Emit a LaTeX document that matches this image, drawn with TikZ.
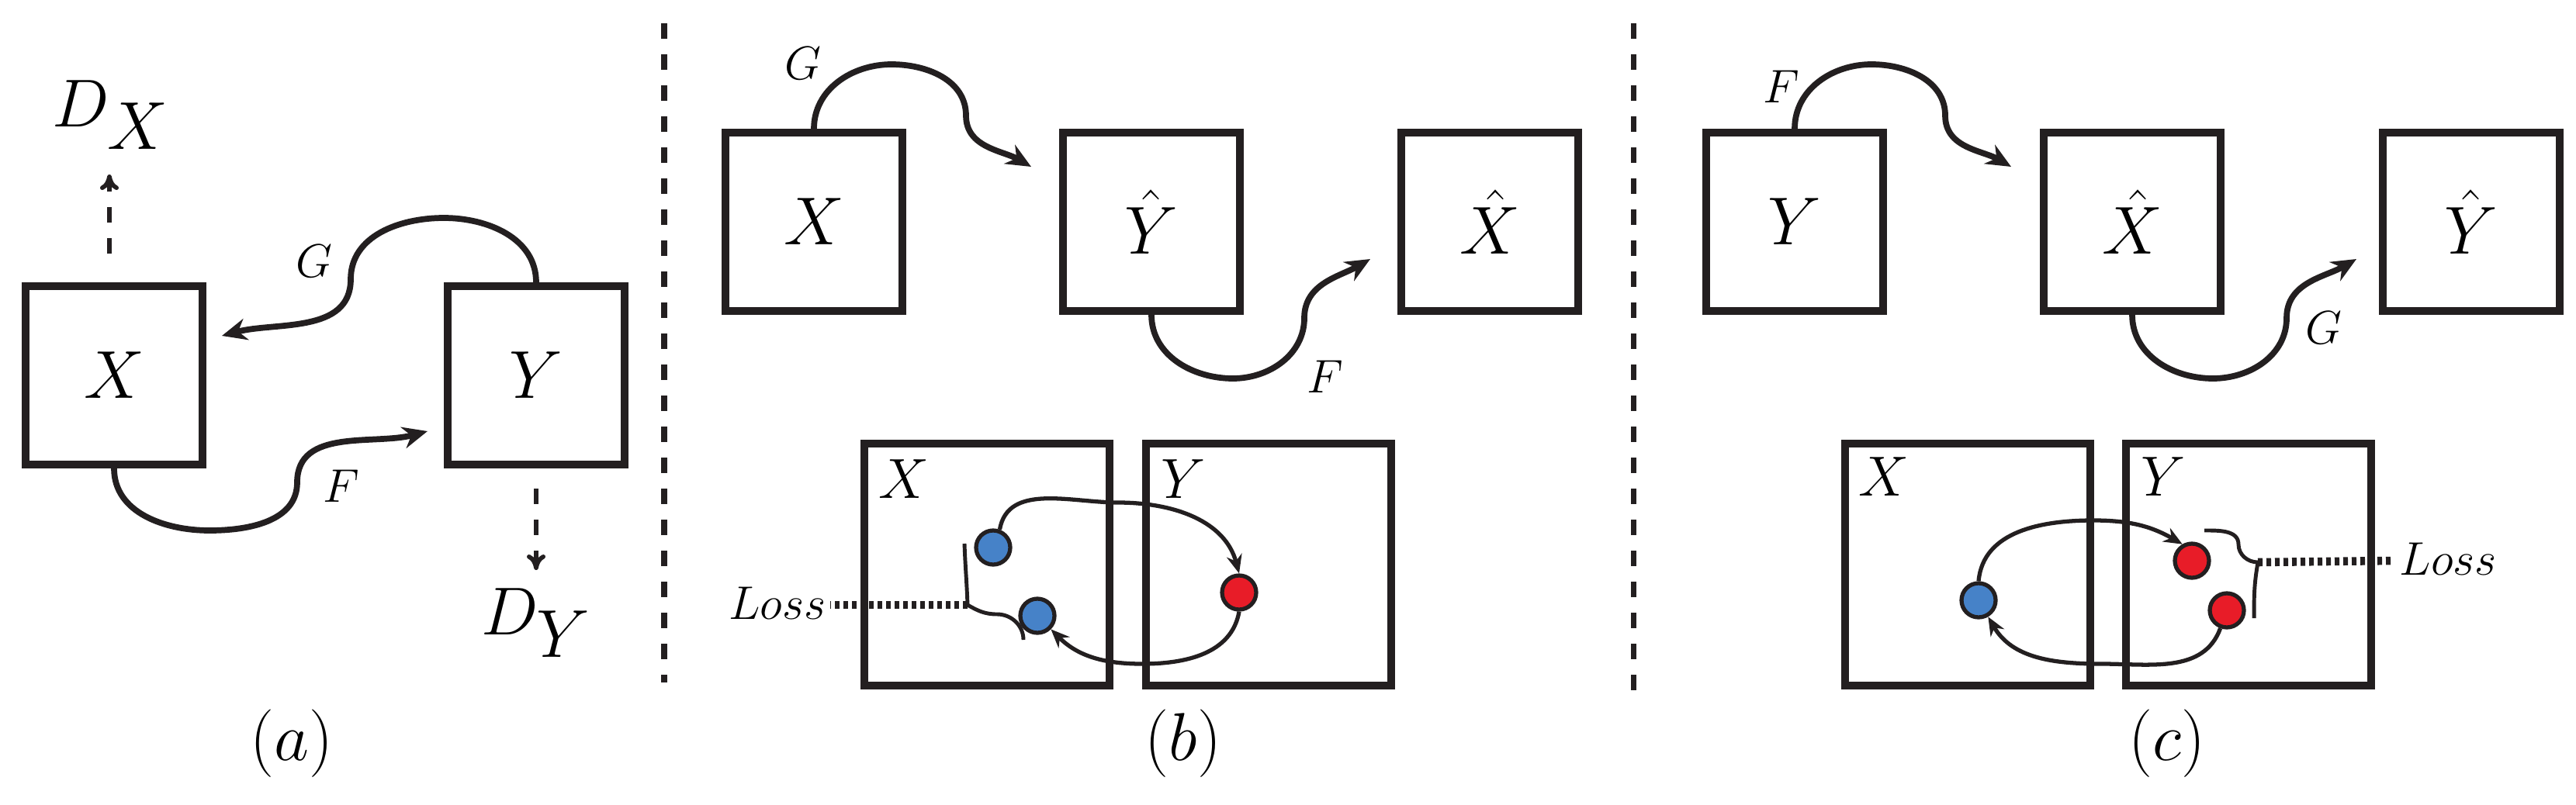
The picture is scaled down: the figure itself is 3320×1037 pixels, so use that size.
\documentclass[tikz,border=0pt]{standalone}
\usetikzlibrary{arrows.meta}
\definecolor{dotblue}{RGB}{70,130,200}
\definecolor{dotred}{RGB}{232,28,40}
\definecolor{ink}{RGB}{35,31,32}
\begin{document}
\begin{tikzpicture}[x=0.1mm,y=0.1mm,
  big/.style={draw=ink,line width=2.8pt,minimum width=22.8mm,minimum height=23mm,inner sep=0pt,font=\fontsize{41}{41}\selectfont},
  sq/.style={draw=ink,line width=2.8pt,minimum width=31.6mm,minimum height=31.2mm,inner sep=0pt},
  curve/.style={ink,line width=2.2pt,-{Stealth[length=3.2mm,width=2.8mm]}},
  thin/.style={ink,line width=1.5pt,-{Stealth[length=2.4mm,width=2mm]}},
  dsh/.style={ink,line width=1.6pt,dash pattern=on 2mm off 2mm,-{To[length=2mm,width=2.4mm]}},
  divider/.style={ink,line width=2pt,dash pattern=on 2mm off 2mm},
  lab/.style={font=\fontsize{17}{17}\selectfont,inner sep=0pt},
  sub/.style={font=\fontsize{21}{21}\selectfont,inner sep=0pt},
  captxt/.style={font=\fontsize{30}{30}\selectfont,inner sep=0pt},
  bdot/.style={circle,draw=ink,line width=1.5pt,fill=dotblue,minimum size=4.4mm,inner sep=0pt},
  rdot/.style={circle,draw=ink,line width=1.5pt,fill=dotred,minimum size=4.4mm,inner sep=0pt},
  loss/.style={ink,line width=3pt,dash pattern=on 0.6mm off 0.5mm},
  brace/.style={ink,line width=1.4pt}]
\useasboundingbox (0,0) rectangle (3320,1037);
% ---------- (a)
\node[big] (Xa) at (147,553) {$X$};
\node[big] (Ya) at (691,553) {$Y$};
\node[font=\fontsize{33}{33}\selectfont,inner sep=0pt] (DX) at (143,889) {$D_X$};
\node[font=\fontsize{33}{33}\selectfont,inner sep=0pt] (DY) at (691,234) {$D_Y$};
\coordinate (dxs) at (141,710); \coordinate (dxe) at (141,812);
\coordinate (dys) at (691,407); \coordinate (dye) at (691,302);
\draw[dsh] (dxs) -- (dxe);
\draw[dsh] (dys) -- (dye);
\coordinate (ga1) at (572,756); \coordinate (ga2) at (452,677); \coordinate (ga3) at (286,604);
\draw[curve] (Ya.north) to[out=90,in=0] (ga1) to[out=180,in=90] (ga2) to[out=-90,in=15] (ga3);
\node[lab] (Gla) at (405,700) {$G$};
\coordinate (fa1) at (270,353); \coordinate (fa2) at (383,415); \coordinate (fa3) at (551,481);
\draw[curve] (Xa.south) to[out=-90,in=180] (fa1) to[out=0,in=-90] (fa2) to[out=90,in=195] (fa3);
\node[lab] (Fla) at (440,410) {$F$};
\node[captxt] (ca) at (376,78) {$(a)$};
\coordinate (d1a) at (856,1007); \coordinate (d1b) at (856,157);
\draw[divider] (d1a) -- (d1b);
% ---------- (b) top
\node[big] (Xb) at (1049,751) {$X$};
\node[big] (Yhb) at (1484,751) {$\hat{Y}$};
\node[big] (Xhb) at (1920,751) {$\hat{X}$};
\coordinate (gb1) at (1149,954); \coordinate (gb2) at (1245,888); \coordinate (gb3) at (1329,822);
\draw[curve] (Xb.north) to[out=90,in=180] (gb1) to[out=0,in=90] (gb2) to[out=-90,in=150] (gb3);
\node[lab] (Glb) at (1035,955) {$G$};
\coordinate (fb1) at (1589,549); \coordinate (fb2) at (1681,627); \coordinate (fb3) at (1766,703);
\draw[curve] (Yhb.south) to[out=-90,in=180] (fb1) to[out=0,in=-90] (fb2) to[out=90,in=210] (fb3);
\node[lab] (Flb) at (1708,551) {$F$};
% ---------- (b) bottom
\node[sq] (Xbb) at (1272,309) {};
\node[sq] (Ybb) at (1635,309) {};
\node[sub] (xlb) at (1165,419) {$X$};
\node[sub] (ylb) at (1525,419) {$Y$};
\node[bdot] (b1) at (1280,331) {};
\node[bdot] (b2) at (1337,243) {};
\node[rdot] (rb) at (1597,273) {};
\coordinate (ab1) at (1441,389); \coordinate (ab2) at (1472,181);
\draw[thin] (b1.70) to[out=80,in=180] (ab1) to[out=0,in=105] (rb.north);
\draw[thin] (rb.south) to[out=-100,in=0] (ab2) to[out=180,in=-45] (b2.-45);
\coordinate (brb1) at (1243,336); \coordinate (brb2) at (1247,257); \coordinate (brb3) at (1319,212);
\draw[brace] (brb1) to[out=-88,in=92] (brb2) to[out=-30,in=180] (1285,245) to[out=0,in=90] (brb3);
\coordinate (lbe) at (1070,257);
\draw[loss] (brb2) -- (lbe);
\node[lab,anchor=east] (Lb) at (1065,259) {$Loss$};
\node[captxt] (cb) at (1525,78) {$(b)$};
\coordinate (d2a) at (2105,1007); \coordinate (d2b) at (2105,147);
\draw[divider] (d2a) -- (d2b);
% ---------- (c) top
\node[big] (Yc) at (2313,751) {$Y$};
\node[big] (Xhc) at (2748,751) {$\hat{X}$};
\node[big] (Yhc) at (3185,751) {$\hat{Y}$};
\coordinate (fc1) at (2412,954); \coordinate (fc2) at (2507,888); \coordinate (fc3) at (2592,822);
\draw[curve] (Yc.north) to[out=90,in=180] (fc1) to[out=0,in=90] (fc2) to[out=-90,in=150] (fc3);
\node[lab] (Flc) at (2296,925) {$F$};
\coordinate (gc1) at (2852,549); \coordinate (gc2) at (2947,627); \coordinate (gc3) at (3037,703);
\draw[curve] (Xhc.south) to[out=-90,in=180] (gc1) to[out=0,in=-90] (gc2) to[out=90,in=210] (gc3);
\node[lab] (Glc) at (2995,614) {$G$};
% ---------- (c) bottom
\node[sq] (Xcb) at (2536,309) {};
\node[sq] (Ycb) at (2898,309) {};
\node[sub] (xlc) at (2428,422) {$X$};
\node[sub] (ylc) at (2788,422) {$Y$};
\node[bdot] (bc) at (2550,263) {};
\node[rdot] (r1) at (2825,314) {};
\node[rdot] (r2) at (2870,250) {};
\coordinate (ac1) at (2698,366); \coordinate (ac2) at (2709,181);
\draw[thin] (bc.north) to[out=85,in=180] (ac1) to[out=0,in=150] (r1.120);
\draw[thin] (r2.-110) to[out=-110,in=0] (ac2) to[out=180,in=-60] (bc.-60);
\coordinate (brc1) at (2841,353); \coordinate (brc2) at (2910,312); \coordinate (brc3) at (2905,240);
\draw[brace] (brc1) to[out=0,in=90] (2885,335) to[out=-90,in=180] (brc2) to[out=-100,in=90] (brc3);
\coordinate (lce) at (3085,314);
\draw[loss] (brc2) -- (lce);
\node[lab,anchor=west] (Lc) at (3092,316) {$Loss$};
\node[captxt] (cc) at (2793,78) {$(c)$};
\end{tikzpicture}
\end{document}
